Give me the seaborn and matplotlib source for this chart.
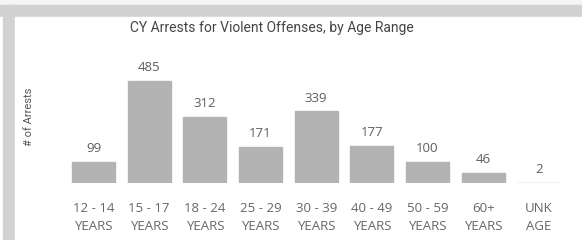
import matplotlib
matplotlib.use('Agg')
import matplotlib.pyplot as plt
from matplotlib.patches import Rectangle
import seaborn as sns
import pandas as pd

age_ranges = ['12 - 14\nYEARS', '15 - 17\nYEARS', '18 - 24\nYEARS', '25 - 29\nYEARS',
              '30 - 39\nYEARS', '40 - 49\nYEARS', '50 - 59\nYEARS', '60+\nYEARS', 'UNK\nAGE']
arrests = [99, 485, 312, 171, 339, 177, 100, 46, 2]

BAR_COLOUR = '#b3b3b3'
TEXT_COLOUR = '#666666'

sns.set_theme(style='white')
plt.rcParams['font.family'] = ['Open Sans', 'DejaVu Sans']

df = pd.DataFrame({'age_range': age_ranges, 'arrests': arrests})

fig = plt.figure(figsize=(5.82, 2.40), dpi=100)

# frame decoration round the visual
fig.patches.append(Rectangle((0, 0), 1, 1, transform=fig.transFigure, color='#f4f4f4', zorder=-3))
fig.patches.append(Rectangle((0, 1 - 17 / 240), 1, 12 / 240, transform=fig.transFigure,
                             color='#d2d2d2', zorder=-2))
fig.patches.append(Rectangle((0, 0), 3 / 582, 1 - 17 / 240, transform=fig.transFigure,
                             color='white', zorder=-2))
fig.patches.append(Rectangle((3 / 582, 0), 12 / 582, 1 - 5 / 240, transform=fig.transFigure,
                             color='#d2d2d2', zorder=-2))
fig.patches.append(Rectangle((15 / 582, 0), 1, 1 - 17 / 240, transform=fig.transFigure,
                             color='white', zorder=-1))

ax = fig.add_axes([65.7 / 582, 1 - 183 / 240, 501 / 582, 125 / 240])
ax.patch.set_alpha(0)
sns.barplot(data=df, x='age_range', y='arrests', color=BAR_COLOUR, width=0.77,
            saturation=1, edgecolor=BAR_COLOUR, linewidth=1.0, ax=ax)

for i, v in enumerate(arrests):
    ax.annotate(f'{v}', (i, v), xytext=(0, 5), textcoords='offset points',
                ha='center', va='bottom', fontsize=9.5, color='#5e5e5e')

ax.set_xlim(-0.5, 8.5)
ax.set_ylim(0, 485 * 125 / 102.3)
ax.set_yticks([])
ax.set_xlabel('')
ax.set_ylabel('# of Arrests', fontsize=8, color='#555555', family='Roboto')
ax.yaxis.set_label_coords(-(65.7 - 34) / 501, (183 - 117) / 125)
ax.tick_params(axis='x', length=0, pad=14, labelsize=9.5, labelcolor=TEXT_COLOUR)
for lbl in ax.get_xticklabels():
    lbl.set_linespacing(1.45)
sns.despine(ax=ax, left=True, bottom=True)

fig.text(272 / 582, 1 - 28 / 240, 'CY Arrests for Violent Offenses, by Age Range',
         ha='center', va='center', fontsize=10, color='#444444', family='Roboto')

fig.savefig('out.png', dpi=100)
